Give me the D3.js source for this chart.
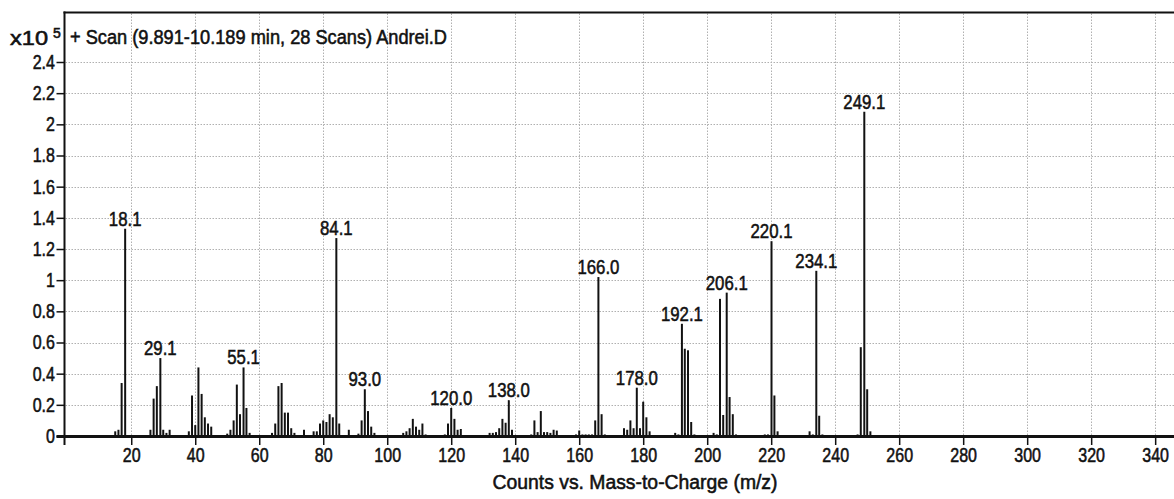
<!DOCTYPE html>
<html>
<head>
<meta charset="utf-8">
<script src="https://cdn.jsdelivr.net/npm/d3@7"></script>
<style>
  html, body { margin: 0; padding: 0; background: #fff; }
  svg { display: block; }
  text { font-family: "Liberation Sans", Arial, sans-serif; fill: #111; stroke: #111; stroke-width: 0.55px; }
</style>
</head>
<body>
<svg id="chart" width="1174" height="499"></svg>
<script>
// Centroided spectrum: m/z of each line and its abundance (counts x10^5)
const mzValues = [
  15, 16, 17, 18.1,
  26, 27, 28, 29.1, 30, 31, 32,
  38, 39, 40, 41, 42, 43, 44, 45,
  50, 51, 52, 53, 54, 55.1, 56, 57,
  64, 65, 66, 67, 68, 69, 70, 71,
  74,
  77, 78, 79, 80, 81, 82, 83, 84.1, 85,
  88,
  91, 92, 93.0, 94, 95, 96,
  105, 106, 107, 108, 109, 110, 111, 112,
  118, 119, 120.0, 121, 122, 123,
  132, 133, 134, 135, 136, 137, 138.0, 139,
  145, 146, 147, 148, 149, 150, 151, 152, 153,
  159, 160, 161, 162, 163, 164, 165, 166.0, 167, 168,
  174, 175, 176, 177, 178.0, 179, 180, 181, 182,
  190, 191, 192.1, 193, 194, 195, 196,
  202, 203, 204, 205, 206.1, 207, 208, 209,
  218, 219, 220.1, 221, 222,
  232, 233, 234.1, 235, 236,
  247, 248, 249.1, 250, 251
];
const abundance = [
  0.03, 0.04, 0.34, 1.33,
  0.04, 0.24, 0.32, 0.50, 0.04, 0.02, 0.04,
  0.03, 0.26, 0.07, 0.44, 0.27, 0.12, 0.08, 0.06,
  0.015, 0.04, 0.10, 0.33, 0.14, 0.44, 0.18, 0.02,
  0.02, 0.08, 0.32, 0.34, 0.15, 0.15, 0.05, 0.02,
  0.04,
  0.03, 0.03, 0.08, 0.10, 0.09, 0.14, 0.12, 1.27, 0.08,
  0.04,
  0.015, 0.10, 0.30, 0.16, 0.06, 0.02,
  0.02, 0.03, 0.05, 0.11, 0.06, 0.04, 0.08, 0.01,
  0.01, 0.08, 0.18, 0.11, 0.04, 0.045,
  0.02, 0.02, 0.025, 0.05, 0.11, 0.085, 0.23, 0.04,
  0.01, 0.10, 0.025, 0.16, 0.025, 0.025, 0.02, 0.04, 0.035,
  0.01, 0.035, 0.01, 0.01, 0.01, 0.01, 0.10, 1.02, 0.14, 0.01,
  0.05, 0.04, 0.10, 0.05, 0.31, 0.05, 0.22, 0.12, 0.03,
  0.02, 0.01, 0.72, 0.56, 0.55, 0.09, 0.01,
  0.02, 0.01, 0.88, 0.135, 0.92, 0.25, 0.14, 0.01,
  0.01, 0.01, 1.25, 0.26, 0.03,
  0.03, 0.01, 1.06, 0.13, 0.01,
  0.01, 0.57, 2.08, 0.30, 0.03
];
// Lines annotated with their m/z
const labeledMz = [18.1, 29.1, 55.1, 84.1, 93.0, 120.0, 138.0, 166.0, 178.0, 192.1, 206.1, 220.1, 234.1, 249.1];

const xTicks = [20, 40, 60, 80, 100, 120, 140, 160, 180, 200, 220, 240, 260, 280, 300, 320, 340];
const yTicks = [0, 0.2, 0.4, 0.6, 0.8, 1, 1.2, 1.4, 1.6, 1.8, 2, 2.2, 2.4];

const titleText = "+ Scan (9.891-10.189 min, 28 Scans) Andrei.D";
const xAxisTitle = "Counts vs. Mass-to-Charge (m/z)";

const W = 1174, H = 499;
const plot = { left: 64.5, top: 12.5, right: 1175, bottom: 436 };

const svg = d3.select("#chart");

const x = d3.scaleLinear().domain([-0.7, 346.2]).range([65, 1175]);
const y = d3.scaleLinear().domain([0, 2.4]).range([436, 62]);

const spectrum = mzValues.map((m, i) => ({ mz: m, v: abundance[i] }));

// Grid
const grid = svg.append("g").attr("class", "grid")
  .attr("stroke", "#b0b0b0").attr("stroke-width", 1).attr("stroke-dasharray", "1.5,1.5");
grid.selectAll("line.h").data(yTicks.filter(t => t > 0)).join("line")
  .attr("class", "h")
  .attr("x1", plot.left + 1).attr("x2", W)
  .attr("y1", d => Math.round(y(d)) + 0.5).attr("y2", d => Math.round(y(d)) + 0.5);
grid.selectAll("line.v").data(xTicks).join("line")
  .attr("class", "v")
  .attr("x1", d => Math.round(x(d)) + 0.5).attr("x2", d => Math.round(x(d)) + 0.5)
  .attr("y1", plot.top + 1).attr("y2", plot.bottom - 1);

// Spectrum lines
svg.append("g").attr("class", "bars")
  .selectAll("line").data(spectrum).join("line")
  .attr("x1", d => x(d.mz)).attr("x2", d => x(d.mz))
  .attr("y1", y(0)).attr("y2", d => y(d.v))
  .attr("stroke", "#111").attr("stroke-width", 2);

// Peak annotations
const fmt = d3.format(".1f");
const labelData = spectrum.filter(d => labeledMz.includes(d.mz));
svg.append("g").attr("class", "peak-labels")
  .selectAll("text").data(labelData).join("text")
  .attr("transform", d => `translate(${x(d.mz)},${y(d.v) - 3}) scale(0.8,1)`)
  .attr("text-anchor", "middle")
  .attr("font-size", 21)
  .text(d => fmt(d.mz));

// Y axis
const yAxis = d3.axisLeft(y).tickValues(yTicks).tickSize(8).tickPadding(4)
  .tickFormat(d3.format("~g"));
const gy = svg.append("g").attr("transform", `translate(${plot.left},0)`).call(yAxis);
gy.select(".domain").remove();
gy.selectAll(".tick line").attr("stroke", "#111").attr("stroke-width", 1.5);
gy.selectAll(".tick text")
  .attr("font-size", 20).attr("fill", "#111")
  .attr("font-family", "Liberation Sans, Arial, sans-serif")
  .attr("transform", "scale(0.8,1)");

// X axis
const xAxis = d3.axisBottom(x).tickValues(xTicks).tickSize(9).tickPadding(3).tickSizeOuter(0);
const gx = svg.append("g").attr("transform", `translate(0,${plot.bottom})`).call(xAxis);
gx.select(".domain").remove();
gx.selectAll(".tick line").attr("stroke", "#111").attr("stroke-width", 1.5);
gx.selectAll(".tick text")
  .attr("font-size", 20).attr("fill", "#111")
  .attr("font-family", "Liberation Sans, Arial, sans-serif")
  .attr("transform", "scale(0.8,1)");

// Frame: top border, left axis line, heavy baseline
svg.append("line").attr("x1", plot.left - 1).attr("x2", W).attr("y1", plot.top).attr("y2", plot.top)
  .attr("stroke", "#111").attr("stroke-width", 2);
svg.append("line").attr("x1", plot.left).attr("x2", plot.left).attr("y1", plot.top - 1).attr("y2", plot.bottom + 9)
  .attr("stroke", "#111").attr("stroke-width", 2);
svg.append("line").attr("x1", plot.left - 8).attr("x2", W).attr("y1", plot.bottom + 0.5).attr("y2", plot.bottom + 0.5)
  .attr("stroke", "#111").attr("stroke-width", 3);

// Title, exponent and axis title
svg.append("text").attr("x", 70).attr("y", 44).attr("font-size", 20)
  .attr("textLength", 377).attr("lengthAdjust", "spacingAndGlyphs")
  .text(titleText);
svg.append("text").attr("x", 10).attr("y", 45).attr("font-size", 20)
  .attr("textLength", 38).attr("lengthAdjust", "spacingAndGlyphs")
  .text("x10");
svg.append("text").attr("x", 53).attr("y", 38).attr("font-size", 14)
  .text("5");
svg.append("text").attr("x", 635).attr("y", 489).attr("font-size", 20)
  .attr("text-anchor", "middle")
  .attr("textLength", 285).attr("lengthAdjust", "spacingAndGlyphs")
  .text(xAxisTitle);
</script>
</body>
</html>
